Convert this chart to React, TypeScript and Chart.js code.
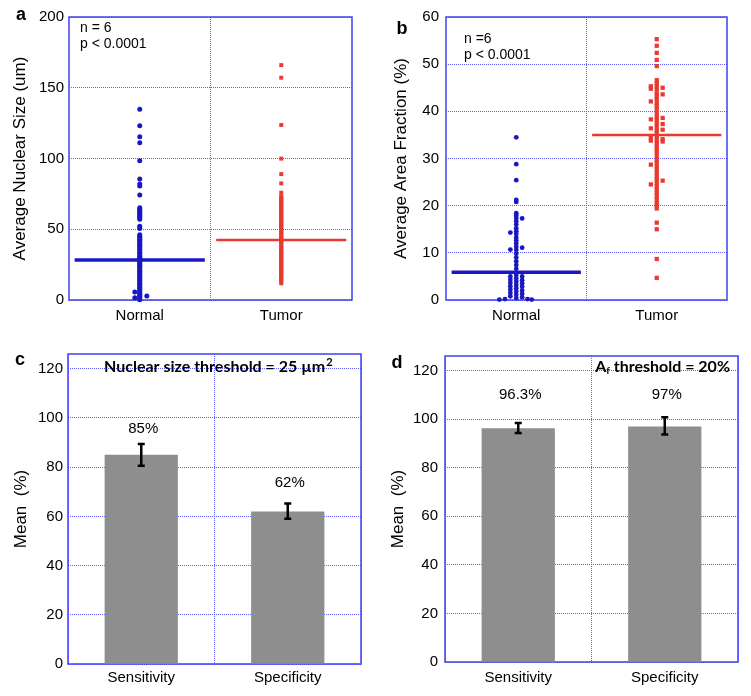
import React, { useEffect, useRef } from 'react';
import { Chart, registerables } from 'chart.js';

Chart.register(...registerables);

// ---------------- DATA ----------------
const groups = ['Normal', 'Tumor'];

// Panel a: average nuclear size (um)
const sizeMeans = [28.3, 42.4];
const sizeNormal = [
  134.8, 123.2, 115.4, 111.2, 98.4, 85.5, 82.0, 80.6, 74.2,
  65.2, 64.1, 63.0, 62.2, 61.1, 60.0, 59.1, 58.0, 57.1, 52.2, 50.6,
  46.2, 45.1, 44.3, 43.0, 42.2, 41.1, 40.3, 39.0, 38.2, 37.4, 36.1, 35.3, 34.0, 33.2,
  32.1, 31.0, 30.2, 29.1, 28.3, 27.0, 26.2, 25.1, 24.0, 23.3, 22.1, 21.0, 20.2, 19.1,
  18.0, 17.2, 16.1, 15.0, 14.2, 13.1, 12.0, 11.2, 10.1, 9.0, 8.2, 7.1, 6.0, 5.2, 4.1,
  3.0, 2.1, 1.0, 0.2,
];
const sizeNormalSideVals = [5.6, 1.6, 2.8];
const sizeNormalSideOffsets = [-0.035, -0.035, 0.05];
const sizeTumor = [
  166.0, 157.1, 123.7, 99.9, 89.0, 82.4, 75.8,
  73.2, 72.1, 71.0, 70.2, 69.1, 68.0, 67.2, 66.1, 65.0, 64.2, 63.1, 62.0, 61.2, 60.1,
  59.0, 58.2, 57.1, 56.0, 55.2, 54.1, 53.0, 52.2, 51.1, 50.0, 49.2, 48.1, 47.0, 46.2,
  45.1, 44.0, 43.2, 42.1, 41.0, 40.2, 39.1, 38.0, 37.2, 36.1, 35.0, 34.2, 33.1, 32.0,
  31.2, 30.1, 29.0, 28.2, 27.1, 26.0, 25.2, 24.1, 23.0, 22.2, 21.1, 20.0, 19.2, 18.1,
  17.0, 16.2, 15.1, 14.0, 12.9, 11.8,
];

// Panel b: average area fraction (%)
const fracMeans = [5.9, 35.0];
const fracNormal = [
  34.5, 28.8, 25.4, 21.2, 20.8, 18.4, 17.9, 17.4, 16.7, 16.0, 15.2, 14.6, 14.0, 13.2,
  12.6, 12.0, 11.3, 10.6, 9.8, 9.0, 8.2, 7.4, 6.6, 5.3, 4.6, 3.9, 3.2, 2.5, 1.8, 1.1, 0.4,
];
const fracNormalLeft = [14.3, 10.7, 5.0, 4.3, 3.6, 2.9, 2.2, 1.5, 0.8];
const fracNormalRight = [17.3, 11.1, 5.0, 4.2, 3.5, 2.8, 2.0, 1.3, 0.6];
const fracNormalBaseVals = [0.1, 0.2, 0.2, 0.1];
const fracNormalBaseOffsets = [-0.12, -0.08, 0.08, 0.11];
const fracTumor = [
  55.3, 53.9, 52.4, 50.9, 49.6, 46.6, 45.9, 45.3, 44.6, 43.8, 43.2, 42.5, 41.7, 41.1,
  40.3, 39.6, 38.8, 38.2, 37.4, 36.8, 36.0, 35.4, 34.6, 33.9, 33.2, 32.5, 31.8, 31.2,
  30.4, 29.7, 29.1, 28.3, 27.6, 26.9, 26.2, 25.6, 24.8, 24.1, 23.4, 22.7, 22.0, 21.4,
  20.6, 19.9, 19.4, 16.4, 15.0, 8.7, 4.7,
];
const fracTumorLeft = [45.3, 44.8, 42.1, 38.3, 36.4, 34.4, 33.8, 28.7, 24.5];
const fracTumorRight = [45.0, 43.6, 38.6, 37.3, 36.1, 34.1, 33.6, 25.3];

// Panels c, d
const outcomes = ['Sensitivity', 'Specificity'];
const nucMean = [85, 62];
const nucErrLow = [80.6, 59.0];
const nucErrHigh = [89.4, 65.2];
const nucLabels = ['85%', '62%'];
const nucLabelAt = [95.5, 73.8];

const afMean = [96.3, 97.0];
const afErrLow = [94.3, 93.7];
const afErrHigh = [98.4, 100.8];
const afLabels = ['96.3%', '97%'];
const afLabelAt = [109.8, 110.2];

// ---------------- STYLE ----------------
const FONT = "'Liberation Sans', Arial, sans-serif";
const TITLE_FONT = "Lato, 'Open Sans', sans-serif";
const BLUE = '#1717c4';
const RED = '#e83a30';
const GRID = '#6060ff';
const FRAME = '#4040f0';
const BAR = '#8e8e8e';
const MEAN_HALF = 0.46;
const SIDE = 0.042;

const pts = (vals: number[], x: number) => vals.map((v) => ({ x, y: v }));
const ptsOff = (vals: number[], offs: number[], x: number) =>
  vals.map((v, i) => ({ x: x + offs[i], y: v }));

const framePlugin = {
  id: 'frame',
  beforeDatasetsDraw(chart: any) {
    const { left, top, right, bottom } = chart.chartArea;
    const ctx = chart.ctx;
    ctx.save();
    ctx.strokeStyle = FRAME;
    ctx.lineWidth = 1.5;
    ctx.setLineDash([]);
    ctx.strokeRect(left, top, right - left, bottom - top);
    ctx.restore();
  },
};

type TextItem = { text: string; x: number; y: number; font: string; align?: CanvasTextAlign };

function textPlugin(items: TextItem[], extra?: (ctx: CanvasRenderingContext2D, chart: any) => void) {
  return {
    id: 'panelText',
    afterDraw(chart: any) {
      const ctx = chart.ctx as CanvasRenderingContext2D;
      ctx.save();
      ctx.fillStyle = '#000';
      ctx.textBaseline = 'middle';
      for (const it of items) {
        ctx.font = it.font;
        ctx.textAlign = it.align || 'left';
        ctx.fillText(it.text, it.x, it.y);
      }
      if (extra) extra(ctx, chart);
      ctx.restore();
    },
  };
}

function errorPlugin(low: number[], high: number[], labels: string[], labelAt: number[]) {
  return {
    id: 'errorBars',
    afterDatasetsDraw(chart: any) {
      const meta = chart.getDatasetMeta(0);
      const ys = chart.scales.y;
      const ctx = chart.ctx as CanvasRenderingContext2D;
      ctx.save();
      ctx.strokeStyle = '#000';
      ctx.fillStyle = '#000';
      ctx.lineWidth = 2.5;
      meta.data.forEach((bar: any, i: number) => {
        const x = bar.x;
        const yl = ys.getPixelForValue(low[i]);
        const yh = ys.getPixelForValue(high[i]);
        ctx.beginPath();
        ctx.moveTo(x, yl);
        ctx.lineTo(x, yh);
        ctx.moveTo(x - 3.5, yl);
        ctx.lineTo(x + 3.5, yl);
        ctx.moveTo(x - 3.5, yh);
        ctx.lineTo(x + 3.5, yh);
        ctx.stroke();
        ctx.font = `15px ${FONT}`;
        ctx.textAlign = 'center';
        ctx.textBaseline = 'middle';
        ctx.fillText(labels[i], x + 2, ys.getPixelForValue(labelAt[i]));
      });
      ctx.restore();
    },
  };
}

function yAxis(max: number, step: number, title: string, width: number, titlePad: number, tickPad: number) {
  return {
    type: 'linear',
    min: 0,
    max,
    ticks: {
      stepSize: step,
      includeBounds: false,
      color: '#000',
      padding: tickPad,
      font: { family: FONT, size: 15 },
    },
    grid: { color: GRID, lineWidth: 1, drawTicks: false, borderDash: [1, 1] },
    border: { display: false, dash: [1, 1] },
    title: {
      display: true,
      text: title,
      color: '#000',
      font: { family: FONT, size: 17 },
      padding: { top: titlePad, bottom: 0 },
    },
    afterFit: (s: any) => {
      s.width = width;
    },
  };
}

function scatterConfig(opts: {
  means: number[];
  normal: { x: number; y: number }[];
  tumor: { x: number; y: number }[];
  max: number;
  step: number;
  title: string;
  yWidth: number;
  titlePad: number;
  tickPad: number;
  padTop: number;
  padRight: number;
  xHeight: number;
  texts: TextItem[];
  normalRadius: number;
  tumorRadius: number;
}) {
  return {
    type: 'scatter',
    data: {
      datasets: [
        {
          data: [
            { x: -MEAN_HALF, y: opts.means[0] },
            { x: MEAN_HALF, y: opts.means[0] },
          ],
          showLine: true,
          borderColor: BLUE,
          borderWidth: 3.5,
          pointRadius: 0,
          clip: false,
        },
        {
          data: [
            { x: 1 - MEAN_HALF, y: opts.means[1] },
            { x: 1 + MEAN_HALF, y: opts.means[1] },
          ],
          showLine: true,
          borderColor: RED,
          borderWidth: 2.5,
          pointRadius: 0,
          clip: false,
        },
        {
          data: opts.normal,
          backgroundColor: BLUE,
          borderWidth: 0,
          pointRadius: opts.normalRadius,
          clip: false,
        },
        {
          data: opts.tumor,
          backgroundColor: RED,
          borderWidth: 0,
          pointStyle: 'rect',
          pointRadius: opts.tumorRadius,
          clip: false,
        },
      ],
    },
    options: {
      responsive: false,
      animation: false,
      events: [],
      layout: { padding: { top: opts.padTop, right: opts.padRight, left: 0, bottom: 0 } },
      plugins: { legend: { display: false }, tooltip: { enabled: false } },
      scales: {
        x: {
          type: 'linear',
          min: -0.5,
          max: 1.5,
          afterBuildTicks: (s: any) => {
            s.ticks = [-0.5, 0, 0.5, 1, 1.5].map((v) => ({ value: v }));
          },
          ticks: {
            autoSkip: false,
            maxRotation: 0,
            color: '#000',
            padding: 7,
            font: { family: FONT, size: 15 },
            callback: (v: number) => (Number.isInteger(v) ? groups[v] : ''),
          },
          grid: {
            color: (c: any) => (c.tick && c.tick.value === 0.5 ? GRID : 'rgba(0,0,0,0)'),
            drawTicks: false,
            borderDash: [1, 1],
          },
          border: { display: false, dash: [1, 1] },
          afterFit: (s: any) => {
            s.height = opts.xHeight;
          },
        },
        y: yAxis(opts.max, opts.step, opts.title, opts.yWidth, opts.titlePad, opts.tickPad),
      },
    },
    plugins: [framePlugin, textPlugin(opts.texts)],
  };
}

function barConfig(opts: {
  values: number[];
  low: number[];
  high: number[];
  labels: string[];
  labelAt: number[];
  title: string;
  yWidth: number;
  titlePad: number;
  tickPad: number;
  padTop: number;
  padRight: number;
  xHeight: number;
  xPad: number;
  texts: TextItem[];
  extra: (ctx: CanvasRenderingContext2D, chart: any) => void;
}) {
  return {
    type: 'bar',
    data: {
      labels: outcomes,
      datasets: [
        {
          data: opts.values,
          backgroundColor: BAR,
          borderWidth: 0,
          barPercentage: 0.5,
          categoryPercentage: 1,
        },
      ],
    },
    options: {
      responsive: false,
      animation: false,
      events: [],
      layout: { padding: { top: opts.padTop, right: opts.padRight, left: 0, bottom: 0 } },
      plugins: { legend: { display: false }, tooltip: { enabled: false } },
      scales: {
        x: {
          ticks: {
            color: '#000',
            padding: opts.xPad,
            font: { family: FONT, size: 15 },
            maxRotation: 0,
          },
          grid: { color: GRID, drawTicks: false, offset: true, borderDash: [1, 1] },
          border: { display: false, dash: [1, 1] },
          afterFit: (s: any) => {
            s.height = opts.xHeight;
          },
        },
        y: yAxis(126, 20, opts.title, opts.yWidth, opts.titlePad, opts.tickPad),
      },
    },
    plugins: [
      framePlugin,
      errorPlugin(opts.low, opts.high, opts.labels, opts.labelAt),
      textPlugin(opts.texts, opts.extra),
    ],
  };
}

const LETTER = `bold 18px ${FONT}`;
const NOTE = `14px ${FONT}`;

const panelA = () =>
  scatterConfig({
    means: sizeMeans,
    normal: [...pts(sizeNormal, 0), ...ptsOff(sizeNormalSideVals, sizeNormalSideOffsets, 0)],
    tumor: pts(sizeTumor, 1),
    max: 200,
    step: 50,
    title: 'Average Nuclear Size (um)',
    yWidth: 69,
    titlePad: 10,
    tickPad: 5,
    padTop: 17,
    padRight: 23,
    xHeight: 40,
    normalRadius: 2.5,
    tumorRadius: 2.8,
    texts: [
      { text: 'a', x: 21, y: 15, font: LETTER, align: 'center' },
      { text: 'n = 6', x: 80, y: 28, font: NOTE },
      { text: 'p < 0.0001', x: 80, y: 44, font: NOTE },
    ],
  });

const panelB = () =>
  scatterConfig({
    means: fracMeans,
    normal: [
      ...pts(fracNormal, 0),
      ...pts(fracNormalLeft, -SIDE),
      ...pts(fracNormalRight, SIDE),
      ...ptsOff(fracNormalBaseVals, fracNormalBaseOffsets, 0),
    ],
    tumor: [...pts(fracTumor, 1), ...pts(fracTumorLeft, 1 - SIDE), ...pts(fracTumorRight, 1 + SIDE)],
    max: 60,
    step: 10,
    title: 'Average Area Fraction (%)',
    yWidth: 71,
    titlePad: 16,
    tickPad: 7,
    padTop: 17,
    padRight: 24,
    xHeight: 40,
    normalRadius: 2.4,
    tumorRadius: 3,
    texts: [
      { text: 'b', x: 27, y: 29, font: LETTER, align: 'center' },
      { text: 'n =6', x: 89, y: 39, font: NOTE },
      { text: 'p < 0.0001', x: 89, y: 55, font: NOTE },
    ],
  });

const panelC = () =>
  barConfig({
    values: nucMean,
    low: nucErrLow,
    high: nucErrHigh,
    labels: nucLabels,
    labelAt: nucLabelAt,
    title: 'Mean  (%)',
    yWidth: 68,
    titlePad: 11,
    tickPad: 5,
    padTop: 14,
    padRight: 14,
    xHeight: 32,
    xPad: 5,
    texts: [{ text: 'c', x: 20, y: 20, font: LETTER, align: 'center' }],
    extra: (ctx) => {
      const main = 'Nuclear size threshold = 25 \u00b5m';
      ctx.font = `bold 16px ${TITLE_FONT}`;
      ctx.textAlign = 'left';
      const x0 = 104;
      const y0 = 27;
      ctx.fillText(main, x0, y0);
      const w = ctx.measureText(main).width;
      ctx.font = `bold 11px ${TITLE_FONT}`;
      ctx.fillText('2', x0 + w + 1, y0 - 5);
    },
  });

const panelD = () =>
  barConfig({
    values: afMean,
    low: afErrLow,
    high: afErrHigh,
    labels: afLabels,
    labelAt: afLabelAt,
    title: 'Mean  (%)',
    yWidth: 70,
    titlePad: 13,
    tickPad: 7,
    padTop: 12,
    padRight: 13,
    xHeight: 34,
    xPad: 7,
    texts: [{ text: 'd', x: 22, y: 23, font: LETTER, align: 'center' }],
    extra: (ctx) => {
      const big = `bold 16px ${TITLE_FONT}`;
      const small = `bold 10px ${TITLE_FONT}`;
      const rest = ' threshold = 20%';
      ctx.textAlign = 'left';
      ctx.font = big;
      const wA = ctx.measureText('A').width;
      const wR = ctx.measureText(rest).width;
      ctx.font = small;
      const wF = ctx.measureText('f').width;
      const right = 355;
      const y0 = 27;
      let x = right - (wA + wF + wR);
      ctx.font = big;
      ctx.fillText('A', x, y0);
      x += wA;
      ctx.font = small;
      ctx.fillText('f', x, y0 + 4);
      x += wF;
      ctx.font = big;
      ctx.fillText(rest, x, y0);
    },
  });

function ChartBox({ left, top, width, height, make }: { left: number; top: number; width: number; height: number; make: () => any }) {
  const ref = useRef<HTMLCanvasElement>(null);
  useEffect(() => {
    const chart = new Chart(ref.current as HTMLCanvasElement, make());
    return () => chart.destroy();
  }, []);
  return (
    <div style={{ position: 'absolute', left, top, width, height }}>
      <canvas ref={ref} width={width} height={height} style={{ display: 'block', width, height }} />
    </div>
  );
}

export default function App() {
  return (
    <div style={{ position: 'absolute', left: 0, top: 0, width: 751, height: 696, background: '#fff' }}>
      <ChartBox left={0} top={0} width={375} height={340} make={panelA} />
      <ChartBox left={375} top={0} width={376} height={340} make={panelB} />
      <ChartBox left={0} top={340} width={375} height={356} make={panelC} />
      <ChartBox left={375} top={340} width={376} height={356} make={panelD} />
    </div>
  );
}
